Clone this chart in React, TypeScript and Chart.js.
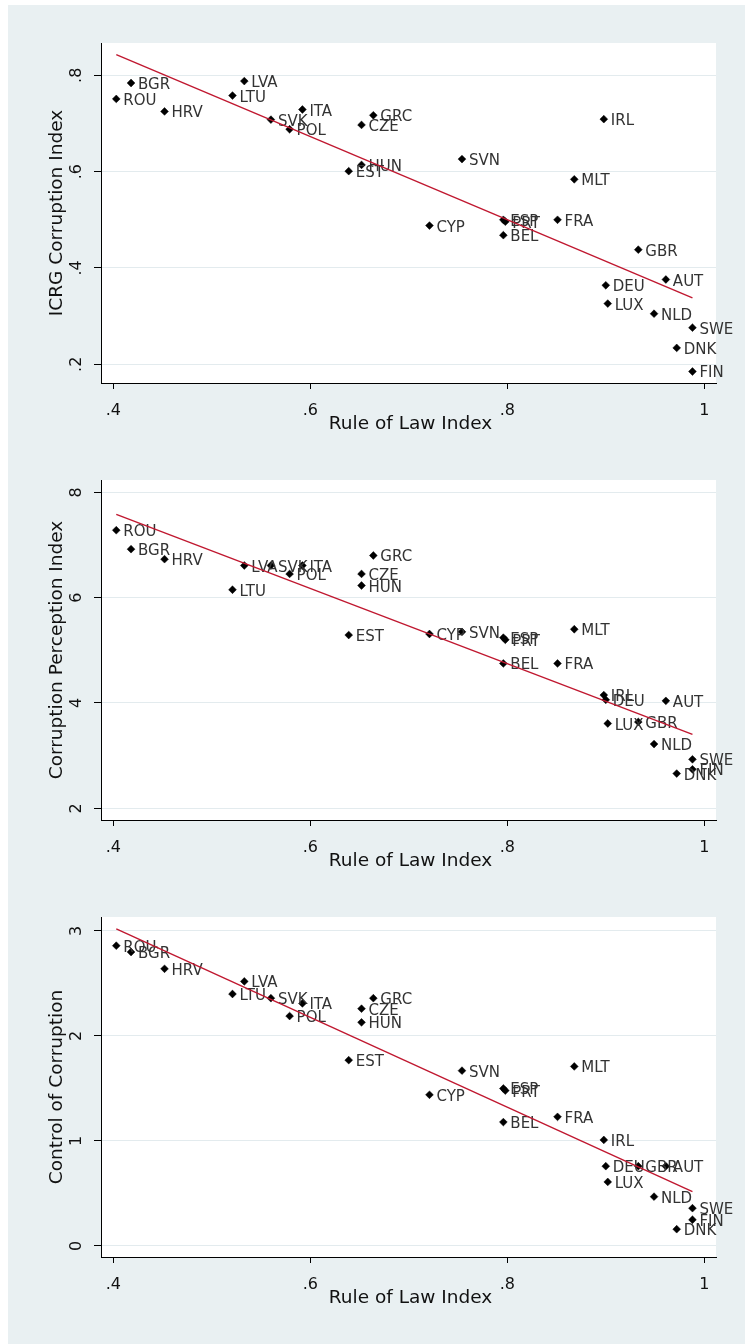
import React, { useEffect, useRef } from "react";
import { Chart, registerables } from "chart.js";

Chart.register(...registerables);

// EU-28 members, in the order the series below are listed
const countries = [
  "ROU", "BGR", "HRV", "LVA", "LTU", "ITA", "SVK", "POL", "GRC", "CZE",
  "HUN", "EST", "SVN", "IRL", "MLT", "CYP", "ESP", "PRT", "BEL", "FRA",
  "GBR", "AUT", "DEU", "LUX", "NLD", "SWE", "DNK", "FIN",
];

const ruleOfLaw = [
  0.403, 0.418, 0.452, 0.533, 0.521, 0.592, 0.560, 0.579, 0.664, 0.652,
  0.652, 0.639, 0.754, 0.898, 0.868, 0.721, 0.796, 0.798, 0.796, 0.851,
  0.933, 0.961, 0.900, 0.902, 0.949, 0.988, 0.972, 0.988,
];

const icrgCorruption = [
  0.751, 0.784, 0.725, 0.788, 0.758, 0.729, 0.708, 0.688, 0.717, 0.697,
  0.614, 0.601, 0.626, 0.709, 0.584, 0.488, 0.500, 0.496, 0.468, 0.500,
  0.438, 0.376, 0.364, 0.326, 0.305, 0.276, 0.234, 0.185,
];

const corruptionPerception = [
  7.28, 6.92, 6.73, 6.61, 6.15, 6.61, 6.61, 6.45, 6.80, 6.45,
  6.23, 5.29, 5.35, 4.15, 5.40, 5.31, 5.24, 5.20, 4.75, 4.75,
  3.64, 4.04, 4.06, 3.61, 3.22, 2.93, 2.66, 2.74,
];

const controlOfCorruption = [
  2.86, 2.80, 2.64, 2.52, 2.40, 2.31, 2.36, 2.19, 2.36, 2.26,
  2.13, 1.77, 1.67, 1.01, 1.71, 1.44, 1.50, 1.48, 1.18, 1.23,
  0.76, 0.76, 0.76, 0.61, 0.47, 0.36, 0.16, 0.25,
];

// Linear-fit lines: values at the lowest and highest rule-of-law score
const fitRange = [0.403, 0.988];
const icrgFit = [0.843, 0.338];
const cpiFit = [7.58, 3.405];
const cocFit = [3.02, 0.517];

// Axis ticks
const xTicks = [0.4, 0.6, 0.8, 1];
const xTickLabels = [".4", ".6", ".8", "1"];
const icrgTicks = [0.2, 0.4, 0.6, 0.8];
const icrgTickLabels = [".2", ".4", ".6", ".8"];
const cpiTicks = [2, 4, 6, 8];
const cpiTickLabels = ["2", "4", "6", "8"];
const cocTicks = [0, 1, 2, 3];
const cocTickLabels = ["0", "1", "2", "3"];

const FONT = '"DejaVu Sans", Verdana, sans-serif';
const PAGE_BG = "#E9F0F2";
const CANVAS_W = 737;
const PLOT_BOTTOM = 378;

const stataFrame = {
  id: "stataFrame",
  beforeDraw(chart: any) {
    const { ctx, chartArea: a } = chart;
    ctx.save();
    ctx.fillStyle = "#ffffff";
    ctx.fillRect(a.left, a.top, a.right - a.left, a.bottom - a.top);
    ctx.restore();
  },
  afterDatasetDraw(chart: any, args: any) {
    if (args.index !== 0) return;
    const { ctx } = chart;
    const meta = chart.getDatasetMeta(0);
    ctx.save();
    ctx.font = `15px ${FONT}`;
    ctx.fillStyle = "#333333";
    ctx.textAlign = "left";
    ctx.textBaseline = "alphabetic";
    meta.data.forEach((pt: any, i: number) => {
      ctx.fillText(countries[i], pt.x + 7, pt.y + 6);
    });
    ctx.restore();
  },
  afterDraw(chart: any, _args: any, opts: any) {
    const { ctx, chartArea: a, scales } = chart;
    const xs = scales.x;
    const ys = scales.y;
    ctx.save();
    ctx.fillStyle = "#111111";
    ctx.textAlign = "center";
    ctx.textBaseline = "alphabetic";
    ctx.font = `16px ${FONT}`;
    xs.ticks.forEach((t: any, i: number) => {
      ctx.fillText(opts.xLabels[i], xs.getPixelForValue(t.value), a.bottom + 32);
    });
    ys.ticks.forEach((t: any, i: number) => {
      const py = ys.getPixelForValue(t.value);
      ctx.save();
      ctx.translate(a.left - 20, py);
      ctx.rotate(-Math.PI / 2);
      ctx.fillText(opts.yLabels[i], 0, 0);
      ctx.restore();
    });
    ctx.font = `18.5px ${FONT}`;
    ctx.fillText(opts.xTitle, (a.left + a.right) / 2 + 2, a.bottom + 46);
    ctx.save();
    ctx.translate(a.left - 39, (a.top + a.bottom) / 2);
    ctx.rotate(-Math.PI / 2);
    ctx.fillText(opts.yTitle, 0, 0);
    ctx.restore();
    ctx.restore();
  },
};

type PanelProps = {
  top: number;
  height: number;
  values: number[];
  fit: number[];
  yMin: number;
  yMax: number;
  yTicks: number[];
  yLabels: string[];
  yTitle: string;
};

function Panel({ top, height, values, fit, yMin, yMax, yTicks, yLabels, yTitle }: PanelProps) {
  const ref = useRef<HTMLCanvasElement>(null);

  useEffect(() => {
    const chart = new Chart(ref.current as HTMLCanvasElement, {
      type: "scatter",
      data: {
        datasets: [
          {
            data: ruleOfLaw.map((x, i) => ({ x, y: values[i] })),
            pointStyle: "rectRot",
            pointRadius: 3.9,
            pointBackgroundColor: "#000000",
            pointBorderColor: "#000000",
            pointBorderWidth: 0.5,
            order: 1,
          },
          {
            data: fitRange.map((x, i) => ({ x, y: fit[i] })),
            showLine: true,
            borderColor: "#c01830",
            borderWidth: 1.4,
            pointRadius: 0,
            fill: false,
            order: 0,
          },
        ],
      },
      options: {
        animation: false,
        responsive: false,
        devicePixelRatio: 1,
        events: [],
        layout: { padding: { top: 38, right: 29, left: 0, bottom: 0 } },
        plugins: {
          legend: { display: false },
          tooltip: { enabled: false },
          stataFrame: {
            xLabels: xTickLabels,
            yLabels,
            xTitle: "Rule of Law Index",
            yTitle,
          },
        } as any,
        scales: {
          x: {
            type: "linear",
            min: 0.3875,
            max: 1.0119,
            afterBuildTicks: (s: any) => {
              s.ticks = xTicks.map((v) => ({ value: v }));
            },
            afterFit: (s: any) => {
              s.height = height - PLOT_BOTTOM;
            },
            ticks: { display: false },
            grid: {
              drawOnChartArea: false,
              drawTicks: true,
              tickLength: 6,
              tickColor: "#000000",
              color: "#000000",
            },
            border: { color: "#000000", width: 1 },
          },
          y: {
            type: "linear",
            min: yMin,
            max: yMax,
            afterBuildTicks: (s: any) => {
              s.ticks = yTicks.map((v) => ({ value: v }));
            },
            afterFit: (s: any) => {
              s.width = 93;
            },
            ticks: { display: false },
            grid: {
              drawOnChartArea: true,
              color: "#E3EBEE",
              lineWidth: 1,
              drawTicks: true,
              tickLength: 7,
              tickColor: "#000000",
            },
            border: { color: "#000000", width: 1 },
          },
        },
      } as any,
      plugins: [stataFrame as any],
    });
    return () => chart.destroy();
  }, []);

  return (
    <canvas
      ref={ref}
      width={CANVAS_W}
      height={height}
      style={{ position: "absolute", left: 8, top, width: CANVAS_W, height, display: "block" }}
    />
  );
}

export default function App() {
  return (
    <div style={{ position: "absolute", left: 0, top: 0, width: 745, height: 1344, background: "#ffffff", overflow: "hidden" }}>
      <div style={{ position: "absolute", left: 8, top: 5, width: 737, height: 1339, background: PAGE_BG }} />
      <Panel
        top={5}
        height={437}
        values={icrgCorruption}
        fit={icrgFit}
        yMin={0.1611}
        yMax={0.8671}
        yTicks={icrgTicks}
        yLabels={icrgTickLabels}
        yTitle="ICRG Corruption Index"
      />
      <Panel
        top={442}
        height={437}
        values={corruptionPerception}
        fit={cpiFit}
        yMin={1.778}
        yMax={8.2335}
        yTicks={cpiTicks}
        yLabels={cpiTickLabels}
        yTitle="Corruption Perception Index"
      />
      <Panel
        top={879}
        height={465}
        values={controlOfCorruption}
        fit={cocFit}
        yMin={-0.1048}
        yMax={3.1333}
        yTicks={cocTicks}
        yLabels={cocTickLabels}
        yTitle="Control of Corruption"
      />
    </div>
  );
}
